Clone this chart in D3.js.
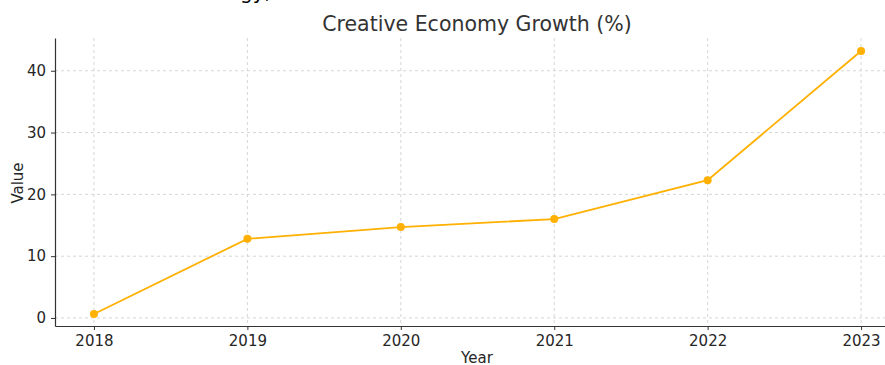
<!DOCTYPE html>
<html>
<head>
<meta charset="utf-8">
<script src="https://cdn.jsdelivr.net/npm/d3@7"></script>
<style>
  body { margin: 0; background: #fff; }
  svg { font-family: "DejaVu Sans", sans-serif; }
  .grid line { stroke: #cccccc; stroke-dasharray: 3,3; stroke-width: 0.8; }
  .axis line, .axis path { stroke: #333; }
</style>
</head>
<body>
<script>
var years = [2018, 2019, 2020, 2021, 2022, 2023],
    growth = [0.65, 12.8, 14.7, 16.0, 22.3, 43.2],
    yTicks = [0, 10, 20, 30, 40];

var W = 885, H = 365,
    m = { t: 38, r: 0, b: 39, l: 55 };

var svg = d3.select("body").append("svg")
    .attr("width", W)
    .attr("height", H);

var x = d3.scaleLinear()
      .domain([2017.746, 2023.156])
      .range([m.l, W - m.r]),
    y = d3.scaleLinear()
      .domain([-1.3, 45.3])
      .range([H - m.b, m.t]);

// clipped text from above the figure
svg.append("text")
    .attr("x", 240)
    .attr("y", -1)
    .attr("font-size", 20)
    .attr("fill", "#000")
    .text("gy,");

// grid
var grid = svg.append("g").attr("class", "grid");
grid.selectAll(".gx").data(years).enter()
  .append("line")
    .attr("x1", function(d) { return x(d); })
    .attr("x2", function(d) { return x(d); })
    .attr("y1", m.t)
    .attr("y2", H - m.b);
grid.selectAll(".gy").data(yTicks).enter()
  .append("line")
    .attr("x1", m.l)
    .attr("x2", W - m.r)
    .attr("y1", function(d) { return y(d); })
    .attr("y2", function(d) { return y(d); });

// axes
var gx = svg.append("g")
    .attr("class", "axis")
    .attr("transform", "translate(0," + (H - m.b) + ")")
    .call(d3.axisBottom(x).tickValues(years).tickFormat(d3.format("d")).tickSize(4).tickPadding(5).tickSizeOuter(0));
var gy = svg.append("g")
    .attr("class", "axis")
    .attr("transform", "translate(" + m.l + ",0)")
    .call(d3.axisLeft(y).tickValues(yTicks).tickSize(4).tickPadding(5).tickSizeOuter(0));
svg.selectAll(".axis")
    .attr("font-size", 15)
    .attr("font-family", "DejaVu Sans, sans-serif");
svg.selectAll(".axis text").attr("fill", "#262626");
svg.selectAll(".axis .domain").attr("stroke-width", 1.2);

// line
var line = d3.line()
    .x(function(d, i) { return x(years[i]); })
    .y(function(d) { return y(d); });

svg.append("path")
    .datum(growth)
    .attr("fill", "none")
    .attr("stroke", "#FFB000")
    .attr("stroke-width", 1.8)
    .attr("d", line);

svg.selectAll(".dot").data(growth).enter()
  .append("circle")
    .attr("cx", function(d, i) { return x(years[i]); })
    .attr("cy", function(d) { return y(d); })
    .attr("r", 4)
    .attr("fill", "#FFB000");

// titles
svg.append("text")
    .attr("x", 477)
    .attr("y", 31)
    .attr("text-anchor", "middle")
    .attr("font-size", 20.5)
    .attr("fill", "#333")
    .text("Creative Economy Growth (%)");
svg.append("text")
    .attr("x", 477)
    .attr("y", 363)
    .attr("text-anchor", "middle")
    .attr("font-size", 15)
    .attr("fill", "#262626")
    .text("Year");
svg.append("text")
    .attr("transform", "translate(23,183) rotate(-90)")
    .attr("text-anchor", "middle")
    .attr("font-size", 15)
    .attr("fill", "#262626")
    .text("Value");
</script>
</body>
</html>
